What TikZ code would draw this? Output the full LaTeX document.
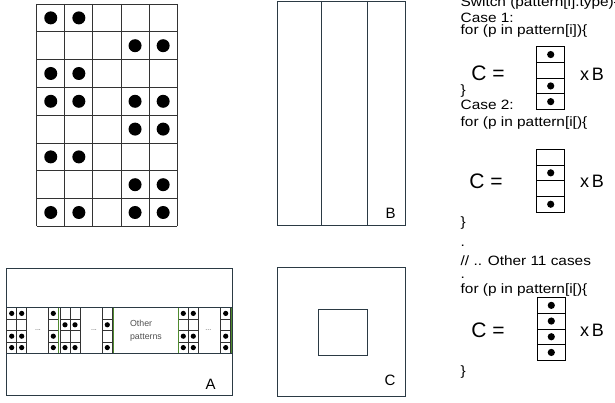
\documentclass[tikz,border=0pt]{standalone}
\usepackage{fontspec}
\setmainfont{Liberation Sans}
\newfontfamily\codefont[FakeStretch=1.14]{Liberation Sans}
\usetikzlibrary{positioning}
\definecolor{boxline}{HTML}{2B3A44}
\definecolor{gridline}{HTML}{333333}
\definecolor{patgreen}{HTML}{4F8A2F}
\definecolor{softtext}{HTML}{505050}
% one column of a pattern in box A: x, list of rows with a dot
\newcommand{\patcol}[2]{%
  \foreach \k in {0,...,3}
    \draw[gridline,line width=0.8pt] (#1,307.7+11.4*\k) rectangle ++(10,11.4);
  \foreach \k in {#2}
    \fill (#1+5,307.7+11.4*\k-5.7) circle (2.6pt);}
% a column vector on the right: x, top, list of rows with a dot
\newcommand{\vecbox}[3]{%
  \foreach \k in {0,...,3}
    \draw[line width=0.8pt] (#1,#2+15.7*\k) rectangle ++(28,15.7);
  \foreach \k in {#3}
    \fill (#1+14,#2+15.7*\k-7.85) circle (3.6pt);}

\begin{document}
\begin{tikzpicture}[x=1pt,y=-1pt,
  code/.style={anchor=west,inner sep=0pt,font=\codefont\fontsize{13.5}{13.5}\selectfont},
  eq/.style={inner sep=0pt,font=\fontsize{21}{21}\selectfont},
  times/.style={inner sep=0pt,font=\fontsize{18}{18}\selectfont},
  tag/.style={inner sep=0pt,font=\fontsize{15}{15}\selectfont},
  ell/.style={inner sep=0pt,font=\fontsize{7}{7}\selectfont,text=softtext}]
\useasboundingbox (0,0) rectangle (615,403);

% big pattern grid
\foreach \i in {0,...,5}
  \draw[gridline,line width=0.9pt] (36.7+28.1*\i,4) -- (36.7+28.1*\i,226.4);
\foreach \j in {0,...,8}
  \draw[gridline,line width=0.9pt] (36.7,4+27.8*\j) -- (177.2,4+27.8*\j);
\foreach \r/\cols in {1/{1,2},2/{4,5},3/{1,2},4/{1,2,4,5},5/{4,5},6/{1,2},7/{4,5},8/{1,2,4,5}}
  \foreach \c in \cols
    \fill (36.7+28.1*\c-14.05,4+27.8*\r-13.9) circle (6.5pt);

% box B
\draw[boxline,line width=0.9pt] (277.3,1) rectangle (405.3,225);
\draw[boxline,line width=0.9pt] (321.3,1) -- (321.3,225);
\draw[boxline,line width=0.9pt] (367.3,1) -- (367.3,225);
\node[tag] (labB) at (390.5,213) {B};

% box C
\draw[boxline,line width=0.9pt] (277.3,267.7) rectangle (405.3,396);
\draw[boxline,line width=0.9pt] (318.7,309.3) rectangle (367.3,355.7);
\node[tag] (labC) at (390,380) {C};

% box A with the band of patterns
\draw[boxline,line width=0.9pt] (6,268.3) rectangle (232,395.7);
\node[tag] (labA) at (210.7,384) {A};
\patcol{6.7}{1,3,4}
\patcol{16.7}{1,3,4}
\patcol{48.3}{1,3,4}
\patcol{60}{2,4}
\patcol{70}{2,4}
\patcol{102.3}{2,4}
\patcol{178.3}{1,3,4}
\patcol{188.3}{1,3,4}
\patcol{220.7}{1,3,4}
\draw[boxline,line width=1.2pt] (6,307.7) -- (232,307.7);
\draw[boxline,line width=1.2pt] (6,353.3) -- (232,353.3);
\foreach \g in {58.5,113.5,178.3,231}
  \draw[patgreen,line width=0.9pt] (\g,307.7) -- (\g,353.3);
\node[ell] (dots1) at (38,330) {...};
\node[ell] (dots2) at (94,330) {...};
\node[ell] (dots3) at (208.3,330) {...};
\node[inner sep=0pt,font=\fontsize{8.8}{13}\selectfont,text=softtext,align=left] (other) at (146,331) {Other\\patterns};

% code on the right
\node[code] (sw) at (460.5,3.5) {Switch (pattern[i].type)\{};
\node[code] (case1) at (460.5,18) {Case 1:};
\node[code] (for1) at (460.5,31.5) {for (p in pattern[i])\{};
\node[eq] (c1) at (488,73) {C =};
\vecbox{536.7}{46.7}{1,3,4}
\node[times] (x1) at (592,74) {x\,B};
\node[code] (end1) at (460.5,91.5) {\}};
\node[code] (case2) at (460.5,105) {Case 2:};
\node[code] (for2) at (460.5,123.5) {for (p in pattern[i[)\{};
\node[eq] (c2) at (486,181.7) {C =};
\vecbox{536.7}{149.3}{2,4}
\node[times] (x2) at (592,181.7) {x\,B};
\node[code] (end2) at (460.5,223.5) {\}};
\node[code] (gap1) at (460.5,246) {.};
\node[code] (other11) at (460.5,261) {// .. Other 11 cases};
\node[code] (gap2) at (460.5,277.5) {.};
\node[code] (for3) at (460.5,290) {for (p in pattern[i[)\{};
\node[eq] (c3) at (488,330) {C =};
\vecbox{537.3}{297.5}{1,2,3,4}
\node[times] (x3) at (592,330) {x\,B};
\node[code] (end3) at (460.5,372) {\}};
\end{tikzpicture}
\end{document}
